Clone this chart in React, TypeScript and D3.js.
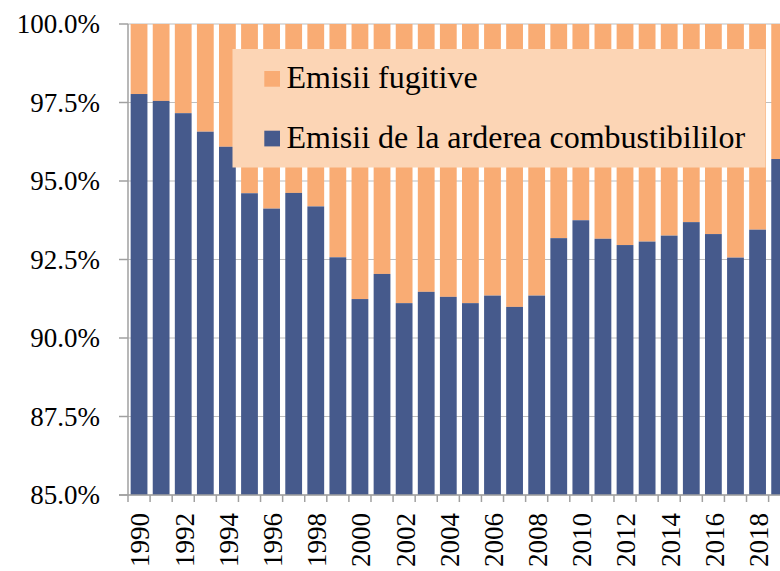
import React from "react";
import * as d3 from "d3";

const years: number[] = [
  1990, 1991, 1992, 1993, 1994, 1995, 1996, 1997, 1998, 1999,
  2000, 2001, 2002, 2003, 2004, 2005, 2006, 2007, 2008, 2009,
  2010, 2011, 2012, 2013, 2014, 2015, 2016, 2017, 2018, 2019,
];

// Share of "Emisii de la arderea combustibililor" (%)
const combustionShare: number[] = [
  97.77, 97.55, 97.16, 96.57, 96.09, 94.61, 94.12, 94.62, 94.19, 92.57,
  91.24, 92.04, 91.11, 91.47, 91.31, 91.11, 91.35, 90.99, 91.35, 93.18,
  93.75, 93.16, 92.96, 93.07, 93.26, 93.69, 93.31, 92.56, 93.45, 95.70,
];

// Share of "Emisii fugitive" (%) = remainder to 100%
const fugitiveShare: number[] = combustionShare.map((v) => 100 - v);

const yTicks: number[] = [85, 87.5, 90, 92.5, 95, 97.5, 100];
const xLabelYears: number[] = years.filter((y) => y % 2 === 0);

const seriesNames: string[] = ["Emisii fugitive", "Emisii de la arderea combustibililor"];
const seriesColors: string[] = ["#F9AC74", "#465A8C"];

const W = 780;
const H = 571;
const left = 128;
const top = 24;
const bottom = 495;
const step = 22.09;
const right = left + step * years.length;
const FONT = '"Liberation Serif", "Times New Roman", Times, serif';
const textStyle = { fontFamily: FONT };

export default function App() {
  const x = d3
    .scaleBand<number>()
    .domain(years)
    .range([left, right])
    .paddingInner(0.24)
    .paddingOuter(0.12);
  const y = d3.scaleLinear().domain([85, 100]).range([bottom, top]);
  const bw = x.bandwidth();

  const boundaries = d3.range(years.length + 1).map((i) => left + i * x.step());

  return (
    <svg
      width={W}
      height={H}
      style={{ position: "absolute", left: 0, top: 0, display: "block", background: "#fff", fontFamily: FONT }}
    >
      {/* gridlines */}
      {yTicks.map((t) => (
        <line key={"g" + t} x1={left} x2={right} y1={y(t)} y2={y(t)} stroke="#BEBEBE" strokeWidth={1.2} />
      ))}
      {/* bars */}
      {years.map((yr, i) => (
        <g key={yr}>
          <rect
            x={x(yr)}
            width={bw}
            y={y(100)}
            height={y(combustionShare[i]) - y(100)}
            fill={seriesColors[0]}
          />
          <rect
            x={x(yr)}
            width={bw}
            y={y(combustionShare[i])}
            height={y(85) - y(combustionShare[i])}
            fill={seriesColors[1]}
          />
          <title>{`${yr}: ${combustionShare[i].toFixed(2)}% / ${fugitiveShare[i].toFixed(2)}%`}</title>
        </g>
      ))}
      {/* axes */}
      <line x1={left} x2={left} y1={top} y2={bottom} stroke="#A0A0A0" strokeWidth={1.5} />
      <line x1={left - 9} x2={right} y1={bottom} y2={bottom} stroke="#A0A0A0" strokeWidth={1.5} />
      {yTicks.map((t) => (
        <line key={"yt" + t} x1={left - 9} x2={left} y1={y(t)} y2={y(t)} stroke="#A0A0A0" strokeWidth={1.5} />
      ))}
      {boundaries.map((bx, i) => (
        <line key={"xt" + i} x1={bx} x2={bx} y1={bottom} y2={bottom + 7} stroke="#A0A0A0" strokeWidth={1.5} />
      ))}
      {/* y labels */}
      {yTicks.map((t) => (
        <text
          key={"yl" + t}
          x={100}
          y={y(t)}
          dy="0.35em"
          textAnchor="end"
          fontSize={27}
          fill="#000"
          style={textStyle}
        >
          {t.toFixed(1) + "%"}
        </text>
      ))}
      {/* x labels */}
      {xLabelYears.map((yr) => {
        const cx = (x(yr) as number) + bw / 2;
        return (
          <text
            key={"xl" + yr}
            transform={`translate(${cx + 1},${bottom + 18}) rotate(-90)`}
            dy="0.35em"
            textAnchor="end"
            fontSize={27}
            fill="#000"
            style={textStyle}
          >
            {yr}
          </text>
        );
      })}
      {/* legend */}
      <rect x={232.5} y={49} width={533} height={118.5} fill="#FCD5B5" />
      {seriesNames.map((name, i) => (
        <g key={name}>
          <rect x={264.3} y={i === 0 ? 71 : 130.7} width={15.7} height={15.7} fill={seriesColors[i]} />
          <text x={286.5} y={i === 0 ? 88.3 : 148.3} fontSize={32} fill="#000" style={textStyle}>
            {name}
          </text>
        </g>
      ))}
    </svg>
  );
}
